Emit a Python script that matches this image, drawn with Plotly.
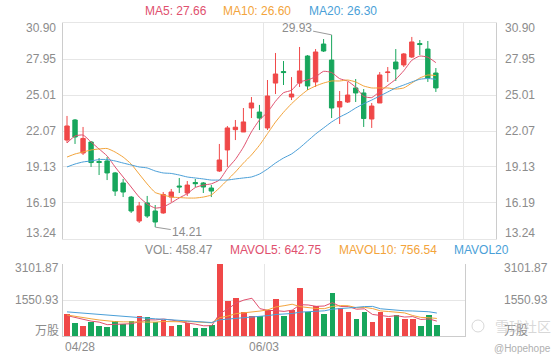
import plotly.graph_objects as go

# ---------------- data ----------------
x_idx = list(range(47))
x_label_text = ["04/28", "06/03"]
x_label_idx = [0, 25]

open_ = [21.33, 22.97, 20.27, 21.17, 19.58, 19.62, 18.64, 17.82, 16.67, 14.71,
         16.19, 15.53, 15.37, 16.67, 17.57, 17.00, 17.86, 17.82, 17.41, 18.80,
         20.52, 22.18, 21.99, 23.95, 23.62, 22.32, 25.99, 26.93, 24.85, 25.99,
         28.20, 26.08, 29.18, 27.87, 24.03, 24.44, 25.59, 25.18, 23.05, 24.36,
         26.85, 27.71, 27.47, 28.12, 29.22, 28.77, 26.81]
high = [23.30, 23.05, 22.40, 21.25, 19.86, 19.94, 18.72, 18.15, 16.76, 16.27,
        16.76, 16.02, 17.08, 17.33, 18.23, 17.98, 18.15, 17.90, 17.65, 21.01,
        22.48, 22.97, 23.95, 24.85, 24.20, 26.24, 28.45, 27.79, 26.48, 28.94,
        28.28, 28.77, 29.59, 29.93, 25.34, 26.08, 26.32, 25.50, 24.36, 26.89,
        27.30, 28.77, 28.45, 29.76, 29.51, 29.43, 27.22]
low = [21.09, 21.01, 20.11, 19.13, 18.47, 18.06, 16.76, 16.67, 15.37, 14.55,
       14.96, 14.21, 15.30, 16.27, 17.00, 16.76, 17.49, 17.00, 16.67, 18.72,
       19.13, 21.33, 21.99, 23.13, 22.15, 22.15, 25.09, 25.83, 24.60, 25.67,
       25.42, 25.67, 28.53, 23.13, 22.64, 24.36, 24.44, 22.40, 22.32, 24.36,
       26.08, 26.16, 27.30, 28.04, 28.28, 26.08, 25.26]
close = [22.48, 21.58, 21.46, 19.49, 19.50, 18.64, 17.16, 17.08, 15.53, 15.94,
         15.12, 14.63, 16.88, 17.08, 17.50, 17.65, 17.76, 17.49, 17.16, 19.70,
         22.32, 22.38, 22.81, 24.36, 23.13, 24.93, 26.73, 26.85, 25.09, 26.98,
         25.75, 28.53, 28.61, 23.95, 24.48, 25.01, 25.18, 23.09, 24.11, 26.65,
         26.89, 27.14, 28.37, 29.35, 29.14, 26.40, 25.59]

ma5 = [21.09, 21.66, 21.74, 21.17, 20.60, 20.03, 19.13, 18.31, 17.49, 16.67,
       16.10, 15.77, 15.86, 16.20, 16.60, 16.95, 17.45, 17.65, 17.75, 18.06,
       19.00, 19.75, 20.75, 22.00, 22.97, 23.60, 24.50, 25.20, 25.40, 26.08,
       26.24, 26.50, 26.95, 26.85, 26.35, 26.15, 25.65, 24.90, 24.80, 25.30,
       25.80, 26.30, 27.00, 27.85, 28.20, 28.10, 27.66]
ma10 = [19.94, 20.19, 20.35, 20.52, 20.60, 20.64, 20.35, 19.94, 19.37, 18.55,
        17.74, 17.04, 16.84, 16.67, 16.63, 16.59, 16.59, 16.67, 16.84, 17.41,
        18.06, 18.72, 19.45, 20.11, 20.90, 21.85, 22.80, 23.60, 24.30, 24.90,
        25.42, 25.75, 25.99, 26.16, 26.16, 26.24, 26.08, 25.75, 25.59, 25.59,
        25.59, 25.50, 25.59, 25.99, 26.40, 26.65, 26.60]
ma20 = [19.13, 19.37, 19.54, 19.62, 19.74, 19.74, 19.62, 19.45, 19.29, 19.13,
        19.05, 18.80, 18.64, 18.60, 18.47, 18.31, 18.23, 18.15, 18.06, 18.06,
        18.06, 18.15, 18.23, 18.31, 18.55, 18.96, 19.45, 19.86, 20.19, 20.68,
        21.25, 21.82, 22.32, 22.81, 23.21, 23.54, 23.95, 24.30, 24.60, 24.93,
        25.26, 25.59, 25.83, 26.08, 26.30, 26.36, 26.30]

volume = [948, 560, 418, 617, 445, 402, 632, 503, 660, 862,
          818, 617, 703, 445, 474, 560, 359, 359, 474, 3101.87,
          1494, 1651, 1020, 862, 862, 1120, 1594, 862, 1120, 2054,
          1048, 1307, 933, 1838, 1221, 1048, 732, 1020, 617, 1048,
          790, 905, 718, 718, 431, 905, 458.47]
mavol5 = [880, 790, 700, 640, 598, 488, 503, 520, 528, 612,
          695, 692, 732, 689, 611, 560, 508, 439, 445, 971,
          1158, 1416, 1548, 1626, 1178, 1103, 1092, 1060, 1112, 1350,
          1336, 1278, 1292, 1436, 1269, 1269, 1154, 1172, 928, 893,
          841, 876, 816, 836, 712, 735, 642.75]
mavol10 = [905, 860, 800, 740, 690, 640, 620, 610, 600, 605,
           592, 597, 626, 609, 612, 627, 600, 586, 567, 791,
           859, 962, 994, 1036, 1074, 1130, 1254, 1304, 1369, 1264,
           1219, 1185, 1176, 1274, 1310, 1303, 1216, 1232, 1182, 1081,
           1055, 1015, 994, 882, 803, 788, 756.54]
mavol20 = [1040, 1010, 980, 950, 920, 890, 860, 830, 800, 780,
           760, 740, 720, 700, 680, 660, 630, 600, 580, 698,
           725, 780, 810, 822, 843, 879, 927, 945, 968, 1028,
           1039, 1074, 1085, 1155, 1192, 1216, 1235, 1268, 1275, 1173,
           1137, 1100, 1085, 1078, 1056, 1045, 989]

price_ticks = [30.90, 27.95, 25.01, 22.07, 19.13, 16.19, 13.24]
price_tick_text = ["30.90", "27.95", "25.01", "22.07", "19.13", "16.19", "13.24"]
vol_ticks = [3101.87, 1550.93, 0]
vol_tick_text = ["3101.87", "1550.93", "万股"]

price_legend = ["MA5: 27.66", "MA10: 26.60", "MA20: 26.30"]
vol_legend = ["VOL: 458.47", "MAVOL5: 642.75", "MAVOL10: 756.54", "MAVOL20"]
high_mark_idx, high_mark_val = 33, 29.93
low_mark_idx, low_mark_val = 11, 14.21

# ---------------- style ----------------
RED = "#f04848"
GREEN = "#17a65c"
C5 = "#e0506e"
C10 = "#f3a43b"
C20 = "#4a9fd8"
GRID = "#e6e6e6"
AXL = "#cccccc"
TXT = "#8c8c8c"
FONT = "Liberation Sans, Arial, Noto Sans CJK SC, sans-serif"
W, H = 560, 360

def px(v):
    return v / W

def py(v):
    return 1 - v / H

fig = go.Figure()

fig.add_trace(go.Candlestick(
    x=x_idx, open=open_, high=high, low=low, close=close,
    increasing=dict(line=dict(color=RED, width=1), fillcolor=RED),
    decreasing=dict(line=dict(color=GREEN, width=1), fillcolor=GREEN),
    whiskerwidth=0, xaxis="x", yaxis="y", hoverinfo="skip", showlegend=False))

for arr, col in [(ma5, C5), (ma10, C10), (ma20, C20)]:
    fig.add_trace(go.Scatter(x=x_idx, y=arr, mode="lines",
                             line=dict(color=col, width=1, shape="spline", smoothing=0.5),
                             xaxis="x", yaxis="y", hoverinfo="skip", showlegend=False))

bar_colors = [RED if c >= o else GREEN for o, c in zip(open_, close)]
fig.add_trace(go.Bar(x=x_idx, y=volume, marker=dict(color=bar_colors, line=dict(width=0)),
                     width=0.7, xaxis="x2", yaxis="y2", hoverinfo="skip", showlegend=False))
for arr, col in [(mavol5, C5), (mavol10, C10), (mavol20, C20)]:
    fig.add_trace(go.Scatter(x=x_idx, y=arr, mode="lines",
                             line=dict(color=col, width=1),
                             xaxis="x2", yaxis="y2", hoverinfo="skip", showlegend=False))

annotations = []
# price axis labels
n = len(price_ticks)
for i, (v, t) in enumerate(zip(price_ticks, price_tick_text)):
    shift = -5 if i == 0 else (6 if i == n - 1 else 0)
    annotations.append(dict(x=px(58), y=v, xref="paper", yref="y", text=t, xanchor="right",
                            yanchor="middle", yshift=shift, showarrow=False,
                            font=dict(size=12, color=TXT, family=FONT)))
    annotations.append(dict(x=px(503), y=v, xref="paper", yref="y", text=t, xanchor="left",
                            yanchor="middle", yshift=shift, showarrow=False,
                            font=dict(size=12, color=TXT, family=FONT)))
# volume axis labels
vshift = [-4, 0, 5]
for v, t, s in zip(vol_ticks, vol_tick_text, vshift):
    annotations.append(dict(x=px(61), y=v, xref="paper", yref="y2", text=t, xanchor="right",
                            yanchor="middle", yshift=s, showarrow=False,
                            font=dict(size=12, color=TXT, family=FONT)))
    annotations.append(dict(x=px(502), y=v, xref="paper", yref="y2", text=t, xanchor="left",
                            yanchor="middle", yshift=s, showarrow=False,
                            font=dict(size=12, color=TXT, family=FONT)))
# x labels
annotations.append(dict(x=x_label_idx[0] - 0.5, y=py(347), xref="x2", yref="paper",
                        text=x_label_text[0], xanchor="left", yanchor="middle", showarrow=False,
                        font=dict(size=12, color=TXT, family=FONT)))
annotations.append(dict(x=x_label_idx[1] - 0.5, y=py(347), xref="x2", yref="paper",
                        text=x_label_text[1], xanchor="center", yanchor="middle", showarrow=False,
                        font=dict(size=12, color=TXT, family=FONT)))
# legends
for t, c, xl in zip(price_legend, [C5, C10, C20], [143, 221, 307]):
    annotations.append(dict(x=px(xl), y=py(11), xref="paper", yref="paper", text=t,
                            xanchor="left", yanchor="middle", showarrow=False,
                            font=dict(size=12, color=c, family=FONT)))
for t, c, xl in zip(vol_legend, [TXT, C5, C10, C20], [143, 228, 337, 452]):
    annotations.append(dict(x=px(xl), y=py(250), xref="paper", yref="paper", text=t,
                            xanchor="left", yanchor="middle", showarrow=False,
                            font=dict(size=12, color=c, family=FONT)))
# high / low marks
annotations.append(dict(x=high_mark_idx, y=high_mark_val, xref="x", yref="y",
                        text=f"{high_mark_val:.2f}", showarrow=True, arrowhead=0, arrowwidth=1,
                        arrowcolor="#9a9a9a", ax=-35, ay=-7, standoff=0,
                        font=dict(size=12, color=TXT, family=FONT)))
annotations.append(dict(x=low_mark_idx, y=low_mark_val, xref="x", yref="y",
                        text=f"{low_mark_val:.2f}", showarrow=True, arrowhead=0, arrowwidth=1,
                        arrowcolor="#9a9a9a", ax=32, ay=5, standoff=0,
                        font=dict(size=12, color=TXT, family=FONT)))
# watermark (semi-transparent, sits behind the right "万股" as in the reference)
annotations.append(dict(x=px(523), y=py(326), xref="paper", yref="paper", text="雪球社区",
                        xanchor="center", yanchor="middle", showarrow=False,
                        font=dict(size=14, color="rgba(190,190,190,0.6)", family="Noto Sans CJK SC")))
annotations.append(dict(x=px(522), y=py(348), xref="paper", yref="paper", text="@Hopehope",
                        xanchor="center", yanchor="middle", showarrow=False,
                        font=dict(size=10, color="#b0b0b0", family=FONT)))

shapes = [dict(type="circle", xref="paper", yref="paper",
               x0=px(472), x1=px(484), y0=py(332), y1=py(320),
               line=dict(color="rgba(190,190,190,0.6)", width=1))]

fig.update_layout(
    width=W, height=H, margin=dict(l=0, r=0, t=0, b=0),
    paper_bgcolor="white", plot_bgcolor="white",
    showlegend=False, annotations=annotations, shapes=shapes, bargap=0, boxgap=0.22,
    xaxis=dict(domain=[px(63), px(496)], range=[-0.5, 53.5], tickvals=[24.5, 49.5],
               showticklabels=False, showgrid=True, gridcolor=GRID, gridwidth=1,
               zeroline=False, showline=True, linecolor=GRID, mirror=True,
               rangeslider=dict(visible=False), fixedrange=True, anchor="y"),
    yaxis=dict(domain=[py(239), py(23)], range=[price_ticks[-1], price_ticks[0]],
               tickvals=price_ticks, showticklabels=False, showgrid=True, gridcolor=GRID,
               zeroline=False, showline=True, linecolor=AXL, mirror=True, anchor="x"),
    xaxis2=dict(domain=[px(63), px(465)], range=[-0.5, 49.5], tickvals=[24.5],
                showticklabels=False, showgrid=True, gridcolor=GRID, zeroline=False,
                showline=True, linecolor=AXL, anchor="y2"),
    yaxis2=dict(domain=[py(336), py(264)], range=[0, vol_ticks[0]], tickvals=vol_ticks[:2],
                showticklabels=False, showgrid=True, gridcolor=GRID, zeroline=False,
                showline=True, linecolor=AXL, mirror=True, anchor="x2"),
)

fig.write_html("out.html")
